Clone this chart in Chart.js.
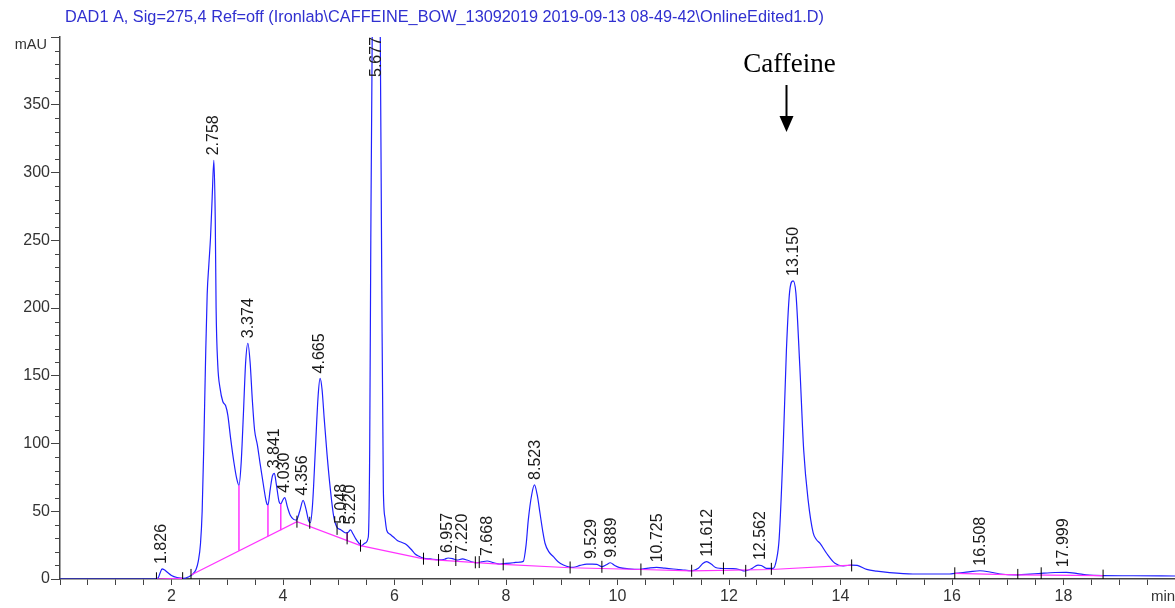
<!DOCTYPE html>
<html>
<head>
<meta charset="utf-8">
<script src="https://cdn.jsdelivr.net/npm/chart.js@4.4.1/dist/chart.umd.min.js"></script>
<style>
  body { margin: 0; background: #fff; }
  canvas { display: block; }
</style>
</head>
<body>
<canvas id="crom" width="1175" height="608"></canvas>
<script>
// chromatogram trace (min, mAU)
const times = [0, 1.70, 1.76, 1.80, 1.83, 1.87, 1.92, 2.00, 2.10, 2.22, 2.30, 2.38, 2.44, 2.48, 2.52, 2.55, 2.58, 2.61, 2.64, 2.67,
  2.70, 2.73, 2.76, 2.785, 2.80, 2.83, 2.87, 2.92, 2.97, 3.01, 3.06, 3.12, 3.17, 3.21, 3.25, 3.29, 3.33, 3.37, 3.41, 3.45,
  3.49, 3.54, 3.59, 3.65, 3.70, 3.73, 3.77, 3.81, 3.845, 3.88, 3.93, 3.96, 4.00, 4.03, 4.08, 4.13, 4.19, 4.24, 4.30, 4.36,
  4.41, 4.46, 4.49, 4.53, 4.58, 4.63, 4.665, 4.70, 4.74, 4.79, 4.85, 4.91, 4.97, 5.03, 5.08, 5.13, 5.17, 5.21, 5.26, 5.30,
  5.35, 5.41, 5.47, 5.53, 5.555, 5.575, 5.60, 5.64, 5.677, 5.71, 5.745, 5.77, 5.80, 5.83, 5.86, 5.92, 5.98, 6.05, 6.10, 6.19,
  6.25, 6.31, 6.37, 6.43, 6.53, 6.64, 6.79, 6.90, 6.96, 7.04, 7.12, 7.22, 7.30, 7.40, 7.47, 7.56, 7.66, 7.78, 7.89, 8.00,
  8.13, 8.25, 8.31, 8.36, 8.40, 8.46, 8.51, 8.56, 8.61, 8.66, 8.70, 8.77, 8.85, 8.94, 9.03, 9.12, 9.21, 9.33, 9.45, 9.55,
  9.63, 9.72, 9.80, 9.87, 9.95, 10.04, 10.20, 10.40, 10.55, 10.70, 10.85, 11.00, 11.15, 11.33, 11.45, 11.53, 11.60, 11.68, 11.76, 11.84,
  12.07, 12.20, 12.28, 12.40, 12.52, 12.58, 12.67, 12.79, 12.85, 12.90, 12.97, 13.03, 13.09, 13.15, 13.20, 13.27, 13.34, 13.42, 13.51, 13.57,
  13.63, 13.75, 13.90, 14.05, 14.20, 14.30, 14.47, 14.65, 14.88, 15.30, 15.96, 16.05, 16.30, 16.50, 16.70, 16.86, 17.18, 17.40, 17.60, 17.85,
  18.05, 18.25, 18.41, 18.71, 19.25, 20.00];
const signal = [0, 0, 0.8, 5, 7.4, 6.8, 5.2, 2.6, 1.1, 0.5, 1.5, 3.5, 7, 13, 26, 50, 100, 160, 210, 232,
  252, 282, 309, 265, 200, 158, 141, 131, 128, 121, 104, 86, 74, 69, 86, 122, 160, 174, 160, 132,
  110, 99, 85, 69, 57, 54.5, 66, 76, 78, 70, 57, 55.5, 58.5, 60, 53, 47, 44, 43.5, 50, 58,
  52, 43, 41.5, 55, 95, 135, 148, 140, 118, 92, 66, 46, 38, 36.5, 35, 34, 34.5, 36.2, 33, 30,
  27, 24.5, 26.5, 31, 95, 250, 400, 460, 470, 460, 400, 230, 66, 45, 36, 33, 31, 28.5, 27.5, 26,
  24, 21.4, 18.5, 17, 15.3, 14.8, 14.2, 14.6, 15.5, 15, 14, 14.8, 14, 12.5, 12, 12.6, 13.3, 12, 11, 11.5,
  12, 12.5, 13, 25, 43.6, 62, 69.4, 62, 48.5, 35, 26.4, 20, 16.5, 12.5, 10.3, 9, 8.6, 10, 11, 11,
  10.8, 9, 10.5, 12, 10, 8.4, 7.5, 7.1, 8, 8.6, 8, 7.4, 6.8, 6.1, 8, 11.5, 12.8, 11, 8.5, 7.9,
  7.6, 6.8, 5.9, 7.5, 10.3, 10, 7.9, 7.9, 14, 30, 95, 169, 213, 220, 211, 157, 95, 58, 34, 29,
  26.4, 19, 11.6, 9.6, 10.3, 10, 7.1, 5.8, 4.7, 3.7, 3.7, 4.2, 5.2, 6.1, 5, 3.7, 3, 3.6, 4.2, 4.8,
  4.9, 4, 3, 2.5, 2.4, 2.2];

// integration baseline (null = break)
const baseTimes = [1.73, 2.20, null, 2.35, 4.25, 5.39, 6.52, 6.79, 7.95, 9.15, 10.42, 11.33, 12.76, 14.20, null, 16.05, 17.18, 18.71];
const baseValues = [0, 0.5, null, 3, 42.3, 24.6, 14.8, 14, 10.8, 8.3, 7, 6, 7, 10.2, null, 4.2, 3.1, 2.5];

// drop lines: time, signal top, baseline bottom
const dropTimes = [3.21, 3.73, 3.96, 5.15];
const dropTops = [69, 54.5, 55.5, 34];
const dropBottoms = [20.9, 31.6, 36, 28.3];

// peak start/end marks
const markTimes = [1.73, 2.20, 2.35, 4.25, 4.48, 4.97, 5.15, 5.39, 6.52, 6.79, 7.10, 7.45, 7.52, 7.95, 9.15, 9.72, 10.42, 11.33, 11.90, 12.30, 12.76, 14.20, 16.05, 17.18, 17.60, 18.71];
const markValues = [0.5, 0.6, 3, 42.3, 41.5, 37, 30, 24.6, 15, 14, 14, 12.3, 12.5, 10.8, 8.5, 9, 7, 6.1, 7.8, 6, 7.5, 10, 4.2, 3, 4.2, 2.5];

// retention times and apex heights
const peakTimes = [1.826, 2.758, 3.374, 3.841, 4.030, 4.356, 4.665, 5.048, 5.220, 5.677, 6.957, 7.220, 7.668, 8.523, 9.529, 9.889, 10.725, 11.612, 12.562, 13.150, 16.508, 17.999];
const peakHeights = [7.4, 309, 174, 78, 60, 58, 148, 37, 36.5, 470, 15.5, 15, 13.3, 69.4, 11, 12, 8.6, 12.8, 10.3, 220, 6.1, 4.9];
const peakLabels = ["1.826", "2.758", "3.374", "3.841", "4.030", "4.356", "4.665", "5.048", "5.220", "5.677", "6.957", "7.220", "7.668", "8.523", "9.529", "9.889", "10.725", "11.612", "12.562", "13.150", "16.508", "17.999"];

const xMin = 0, xMax = 20, yMin = 0, yMax = 400;
const titulo = "DAD1 A, Sig=275,4 Ref=off (Ironlab\\CAFFEINE_BOW_13092019 2019-09-13 08-49-42\\OnlineEdited1.D)";
const caffeineTime = 13.03;

const FONT = '"Liberation Sans", Arial, sans-serif';

function pares(xs, ys) {
    return xs.map((x, i) => ({ x: x === null ? NaN : x, y: ys[i] }));
}

let dropData = [];
dropTimes.forEach((t, i) => {
    dropData.push({ x: t, y: dropTops[i] }, { x: t, y: dropBottoms[i] }, { x: t, y: null });
});

const extras = {
    id: "extras",
    beforeDatasetsDraw(chart) {
        const ctx = chart.ctx;
        const ys = chart.scales.y;
        const left = chart.chartArea.left;
        ctx.save();
        ctx.strokeStyle = "#444";
        ctx.lineWidth = 1;
        for (let v = 10; v < yMax; v += 10) {
            if (v % 50 === 0) continue;
            const py = Math.round(ys.getPixelForValue(v)) + 0.5;
            ctx.beginPath();
            ctx.moveTo(left - 5, py);
            ctx.lineTo(left, py);
            ctx.stroke();
        }
        ctx.restore();
    },
    afterDatasetsDraw(chart) {
        const ctx = chart.ctx;
        const xs = chart.scales.x, ys = chart.scales.y;
        const area = chart.chartArea;
        ctx.save();
        // peak labels
        ctx.fillStyle = "#1a1a1a";
        ctx.font = "16px " + FONT;
        ctx.textAlign = "left";
        ctx.textBaseline = "middle";
        peakTimes.forEach((t, i) => {
            const px = xs.getPixelForValue(t);
            const py = peakHeights[i] > yMax ? area.top + 40 : ys.getPixelForValue(peakHeights[i]) - 5;
            ctx.save();
            ctx.translate(px, py);
            ctx.rotate(-Math.PI / 2);
            ctx.fillText(peakLabels[i], 0, 0);
            ctx.restore();
        });

        // titulo e unidades
        ctx.fillStyle = "#3030d0";
        ctx.font = "16.3px " + FONT;
        ctx.textBaseline = "middle";
        ctx.fillText(titulo, 65, 18);
        ctx.fillStyle = "#333";
        ctx.font = "14.5px " + FONT;
        ctx.textAlign = "right";
        ctx.fillText("mAU", 47, 45);
        ctx.textAlign = "left";
        ctx.font = "15px " + FONT;
        ctx.fillText("min", 1151, 597);

        // caffeine arrow
        const ax = Math.round(xs.getPixelForValue(caffeineTime)) + 0.5;
        ctx.fillStyle = "#000";
        ctx.font = "27px \"Liberation Serif\", \"Times New Roman\", serif";
        ctx.textAlign = "center";
        ctx.fillText("Caffeine", ax + 3, 65);
        ctx.strokeStyle = "#000";
        ctx.lineWidth = 2;
        ctx.beginPath();
        ctx.moveTo(ax, 85);
        ctx.lineTo(ax, 120);
        ctx.stroke();
        ctx.beginPath();
        ctx.moveTo(ax - 7, 116);
        ctx.lineTo(ax + 7, 116);
        ctx.lineTo(ax, 132);
        ctx.closePath();
        ctx.fill();
        ctx.restore();
    }
};

const ctx = document.getElementById("crom").getContext("2d");

let chart = new Chart(ctx, {
    type: "line",
    data: {
        datasets: [
            { label: "baseline", data: pares(baseTimes, baseValues), borderColor: "#ff33ff", borderWidth: 1.2, pointRadius: 0, tension: 0, spanGaps: false, order: 1 },
            { label: "drops", data: dropData, borderColor: "#ff33ff", borderWidth: 1.5, pointRadius: 0, tension: 0, spanGaps: false, order: 1 },
            { label: "marks", data: pares(markTimes, markValues), showLine: false, pointStyle: "line", rotation: 90, pointRadius: 6, pointBorderColor: "#000", pointBorderWidth: 1, order: 0 },
            { label: "DAD1 A", data: pares(times, signal), borderColor: "#2020ff", borderWidth: 1.2, pointRadius: 0, cubicInterpolationMode: "monotone", order: 2 }
        ]
    },
    options: {
        responsive: false,
        animation: false,
        events: [],
        layout: { autoPadding: false, padding: { top: 37, right: 0, left: 0, bottom: 0 } },
        plugins: { legend: { display: false }, tooltip: { enabled: false } },
        scales: {
            x: {
                type: "linear", min: xMin, max: xMax,
                afterFit: s => { s.height = 29; s.paddingLeft = 0; s.paddingRight = 0; },
                border: { display: true, color: "#444", width: 1.5 },
                grid: { drawOnChartArea: false, drawTicks: true, tickLength: 6, tickColor: "#444" },
                ticks: {
                    stepSize: 0.5, autoSkip: false, maxRotation: 0, padding: 2,
                    color: "#333", font: { family: FONT, size: 16 },
                    callback: v => (v % 2 === 0 && v > 0 && v < xMax) ? String(v) : ""
                }
            },
            y: {
                min: yMin, max: yMax,
                afterFit: s => { s.width = 60; },
                border: { display: true, color: "#444", width: 1.5 },
                grid: { drawOnChartArea: false, drawTicks: true, tickLength: 9, tickColor: "#444" },
                ticks: {
                    stepSize: 50, padding: 1,
                    color: "#333", font: { family: FONT, size: 16 },
                    callback: v => v < yMax ? String(v) : ""
                }
            }
        }
    },
    plugins: [extras]
});
</script>
</body>
</html>
